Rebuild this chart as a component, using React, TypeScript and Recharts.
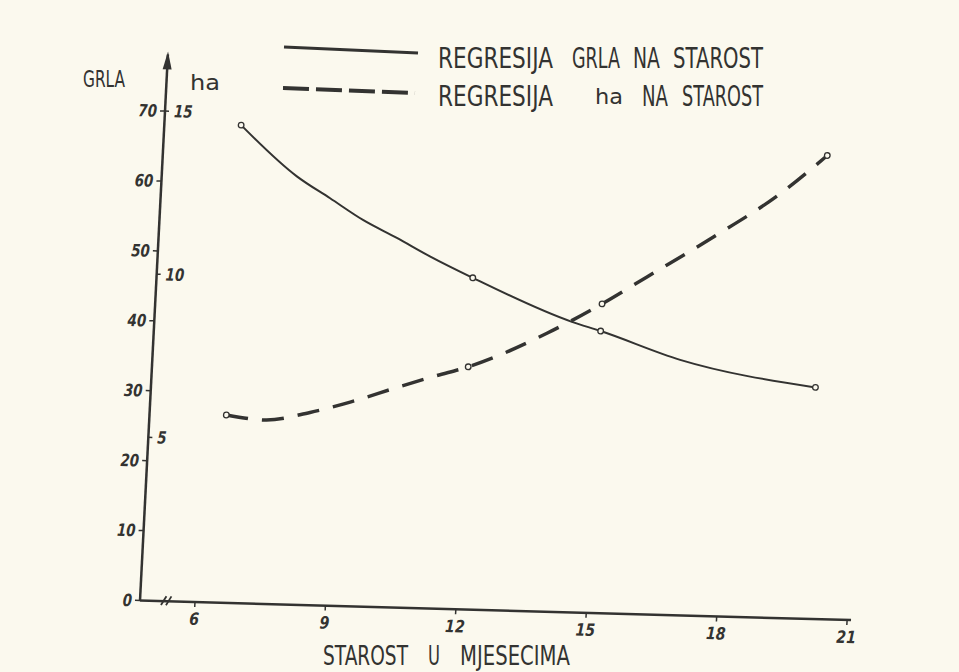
import React from 'react';
import { LineChart, Line, XAxis, YAxis, ReferenceDot } from 'recharts';

// ---------- data ----------
const xTicks = [6, 9, 12, 15, 18, 21];
const grlaTicks = [0, 10, 20, 30, 40, 50, 60, 70];
const haTicks = [5, 10, 15];
const markerMonths = [6.5, 12, 15, 20];

const grlaMonths = [6.5, 7.84, 8.63, 9.42, 10.21, 10.99, 12, 14.33, 15, 16.86, 20];
const grlaValues = [68.3, 61.2, 58.2, 55.2, 52.8, 50.3, 47.4, 41.5, 40.3, 36.5, 33.1];

const haMonths = [6.5, 7.39, 8.42, 9.33, 10.35, 11.25, 12, 13.78, 15, 16.0, 17.48, 18.97, 20];
const haValues = [5.75, 5.63, 5.9, 6.25, 6.72, 7.12, 7.43, 8.53, 9.47, 10.33, 11.61, 13.0, 14.2];

const legendGrla = ['REGRESIJA', 'GRLA', 'NA', 'STAROST'];
const legendHa = ['REGRESIJA', 'ha', 'NA', 'STAROST'];
const xTitle = ['STAROST', 'U', 'MJESECIMA'];
const yTitleLeft = 'GRLA';
const yTitleRight = 'ha';

// ---------- scales ----------
const X_MIN = 4.735;
const X_MAX = 21.09;
const GRLA_MAX = 78.1;
const HA_MAX = (GRLA_MAX * 15) / 70;
const BREAK_AT = 5.36;

const INK = '#333331';
const PAPER = '#fbf9ee';
const FONT = "'DejaVu Sans', sans-serif";

const grlaData = grlaMonths.map((m, i) => ({ m, v: grlaValues[i], mark: markerMonths.includes(m) }));
const haData = haMonths.map((m, i) => ({ m, v: haValues[i], mark: markerMonths.includes(m) }));

const renderDot = (props: any) => {
  const { cx, cy, payload, index } = props;
  if (!payload || !payload.mark) return <g key={`n${index}`} />;
  return (
    <circle key={`d${index}`} cx={cx} cy={cy} r={2.8} fill={PAPER} stroke={INK} strokeWidth={1.3} />
  );
};

const tickText = {
  fontFamily: FONT,
  fontStyle: 'italic',
  fontWeight: 'bold' as const,
  fontSize: 17,
  fill: INK,
};

const XTick = (props: any) => {
  const { x, y, payload } = props;
  const s = String(payload.value);
  return (
    <text x={x} y={y + 16} textAnchor="middle" {...tickText}
      textLength={s.length * 9.8} lengthAdjust="spacingAndGlyphs">{s}</text>
  );
};

const GrlaTick = (props: any) => {
  const { x, y, payload } = props;
  const s = String(payload.value);
  return (
    <text x={x} y={y + 6} textAnchor="end" {...tickText}
      textLength={s.length * 9.3} lengthAdjust="spacingAndGlyphs">{s}</text>
  );
};

const HaTick = (props: any) => {
  const { x, y, payload } = props;
  const s = String(payload.value);
  return (
    <text x={x} y={y + 6} textAnchor="start" {...tickText}
      textLength={s.length * 9.3} lengthAdjust="spacingAndGlyphs">{s}</text>
  );
};

const ArrowHead = (props: any) => {
  const { cx, cy } = props;
  return <polygon points={`${cx},${cy - 3} ${cx - 4.5},${cy + 15} ${cx + 4.5},${cy + 15}`} fill={INK} />;
};

const AxisBreak = (props: any) => {
  const { cx, cy } = props;
  return (
    <g stroke={INK} strokeWidth={1.8}>
      <line x1={cx - 6} y1={cy + 4} x2={cx - 1} y2={cy - 5} />
      <line x1={cx - 1} y1={cy + 4} x2={cx + 4} y2={cy - 5} />
    </g>
  );
};

// stencil-like lettering: narrow glyphs, stretched a little vertically about the baseline
const Word = (p: { x: number; y: number; w?: number; size: number; text: string; sy?: number }) => {
  const sy = p.sy ?? 1.25;
  return (
    <g transform={`matrix(1,0,0,${sy},0,${(1 - sy) * p.y})`}>
      <text x={p.x} y={p.y} fontSize={p.size} fontFamily={FONT} fill={INK}
        {...(p.w ? { textLength: p.w, lengthAdjust: 'spacingAndGlyphs' } : {})}>{p.text}</text>
    </g>
  );
};

const Overlay = () => (
  <svg width={959} height={672} style={{ position: 'absolute', left: 0, top: 0, pointerEvents: 'none' }}>
    {/* legend */}
    <line x1={284} y1={47} x2={418} y2={53} stroke={INK} strokeWidth={3} />
    <line x1={283} y1={88} x2={415} y2={93} stroke={INK} strokeWidth={4} strokeDasharray="26 7" />
    <Word x={438} y={68} w={115} size={22} text={legendGrla[0]} />
    <Word x={572} y={68} w={48} size={22} text={legendGrla[1]} />
    <Word x={633} y={68} w={27} size={22} text={legendGrla[2]} />
    <Word x={673} y={68} w={90} size={22} text={legendGrla[3]} />
    <Word x={438} y={106} w={115} size={22} text={legendHa[0]} />
    <Word x={595} y={104} w={28} size={21} sy={1} text={legendHa[1]} />
    <Word x={642} y={106} w={26} size={22} text={legendHa[2]} />
    <Word x={682} y={106} w={81} size={22} text={legendHa[3]} />
    {/* axis titles */}
    <Word x={83} y={87} w={42} size={19} text={yTitleLeft} />
    <Word x={190} y={90} w={30} size={22} sy={1} text={yTitleRight} />
    <Word x={323} y={665} w={85} size={22} sy={1.2} text={xTitle[0]} />
    <Word x={428} y={665} w={12} size={22} sy={1.2} text={xTitle[1]} />
    <Word x={460} y={665} w={110} size={22} sy={1.2} text={xTitle[2]} />
  </svg>
);

export default function App() {
  return (
    <div style={{ position: 'absolute', left: 0, top: 0, width: 959, height: 672, background: PAPER, overflow: 'hidden' }}>
      <div style={{ position: 'absolute', left: 0, top: 0, width: 959, height: 672,
        transform: 'matrix(1, 0.0276, -0.0511, 1, 0, 0)', transformOrigin: '195px 602px' }}>
        <LineChart width={959} height={672} margin={{ top: 56, right: 108, bottom: 0, left: 0 }}>
          <XAxis dataKey="m" type="number" domain={[X_MIN, X_MAX]} ticks={xTicks} allowDataOverflow
            height={70} tick={<XTick />} tickSize={5} tickMargin={2}
            axisLine={{ stroke: INK, strokeWidth: 2.5 }} tickLine={{ stroke: INK, strokeWidth: 1.5 }} />
          <YAxis yAxisId="grla" type="number" domain={[0, GRLA_MAX]} ticks={grlaTicks} allowDataOverflow
            width={140} tick={<GrlaTick />} tickSize={5} tickMargin={3}
            axisLine={{ stroke: INK, strokeWidth: 2.5 }} tickLine={{ stroke: INK, strokeWidth: 1.5 }} />
          <YAxis yAxisId="ha" type="number" domain={[0, HA_MAX]} ticks={haTicks} allowDataOverflow
            width={1} mirror orientation="left" tick={<HaTick />} tickSize={4} tickMargin={5}
            axisLine={false} tickLine={{ stroke: INK, strokeWidth: 1.5 }} />
          <Line data={grlaData} dataKey="v" yAxisId="grla" type="monotone" stroke={INK} strokeWidth={2}
            dot={renderDot} activeDot={false} isAnimationActive={false} />
          <Line data={haData} dataKey="v" yAxisId="ha" type="monotone" stroke={INK} strokeWidth={3.5}
            strokeDasharray="22 14" dot={renderDot} activeDot={false} isAnimationActive={false} />
          <ReferenceDot yAxisId="grla" x={X_MIN} y={GRLA_MAX} r={0} shape={<ArrowHead />} ifOverflow="visible" />
          <ReferenceDot yAxisId="grla" x={BREAK_AT} y={0} r={0} shape={<AxisBreak />} ifOverflow="visible" />
        </LineChart>
      </div>
      <Overlay />
    </div>
  );
}
